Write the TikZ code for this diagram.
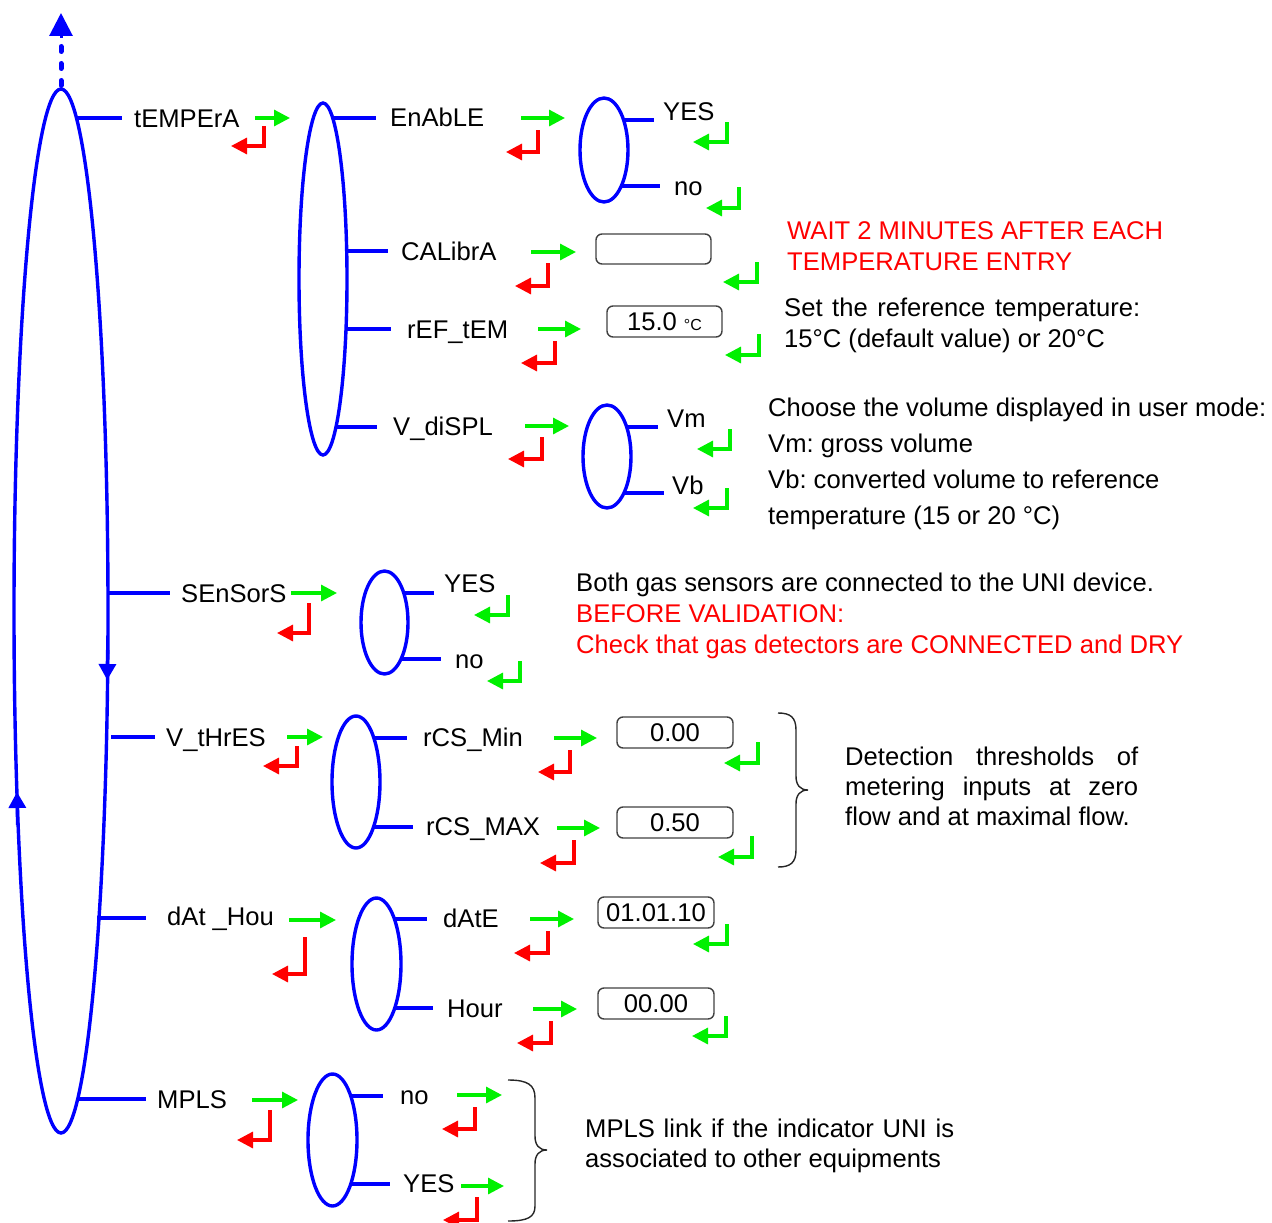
\documentclass[tikz,border=0pt]{standalone}
\usepackage{fontspec}
\setmainfont{Liberation Sans}
\usetikzlibrary{arrows.meta,shapes.geometric}
\definecolor{myblue}{RGB}{0,0,255}
\definecolor{mygreen}{RGB}{0,240,0}
\definecolor{myred}{RGB}{255,0,0}
\frenchspacing
\newcommand{\fwd}[3]{\draw[fwdarrow] (#1,#3) -- (#2,#3);}
\newcommand{\rtn}[5]{\draw[#1] (#2,#3) |- (#4,#5);}
\tikzset{
  lbl/.style={anchor=base west, inner sep=0pt, font=\fontsize{25.6}{30}\selectfont},
  ell/.style={draw=myblue, line width=3.4pt, ellipse, inner sep=0pt},
  br/.style={draw=myblue, line width=3.4pt},
  fwdarrow/.style={draw=mygreen, line width=3.2pt, -{Triangle[length=16pt,width=16pt]}},
  redret/.style={draw=myred, line width=3.2pt, -{Triangle[length=16pt,width=16pt]}},
  grnret/.style={draw=mygreen, line width=3.2pt, -{Triangle[length=16pt,width=16pt]}},
  valbox/.style={draw=black!75, line width=1.4pt, rounded corners=6pt, inner sep=0pt, font=\fontsize{25.6}{30}\selectfont},
  bracepath/.style={draw=black!85, line width=1.4pt},
}
\begin{document}
\begin{tikzpicture}[x=1pt,y=-1pt]
\useasboundingbox (0,0) rectangle (1272,1223);

% main ellipse
\node[ell, minimum width=94pt, minimum height=1044pt] (main) at (61,611) {};
\draw[myblue, line width=5pt, dash pattern=on 5pt off 12pt, line cap=round] (61,85.5) -- (61,42);
\draw[myblue, line width=3pt, -{Triangle[length=23pt,width=23pt]}] (61,38) -- (61,13);
\draw[myblue, line width=3.4pt, -{Triangle[length=16pt,width=17pt]}] (107.6,650) -- (107.2,680);
\draw[myblue, line width=3.4pt, -{Triangle[length=16pt,width=17pt]}] (17.6,825) -- (17.0,792);

% main branches
\draw[br] (77,118) -- (122,118);
\node[lbl] (tempera) at (134,127) {tEMPErA};
\draw[br] (107,593) -- (170,593);
\node[lbl] (sensors) at (181,602) {SEnSorS};
\draw[br] (111,737) -- (155,737);
\node[lbl] (vthres) at (166,746) {V\_tHrES};
\draw[br] (97,918) -- (146,918);
\node[lbl] (dathou) at (167,925) {dAt \_Hou};
\draw[br] (78,1099) -- (146,1099);
\node[lbl] (mpls) at (157,1108) {MPLS};

% ---------- tEMPErA ----------
\fwd{255}{290}{118}
\rtn{redret}{264}{126}{231}{146}
\node[ell, minimum width=48pt, minimum height=352pt] (eT) at (323,279) {};
\draw[br] (333,118) -- (376,118);
\node[lbl] (enable) at (390,126) {EnAbLE};
\draw[br] (346,251) -- (388,251);
\node[lbl] (calibra) at (401,260) {CALibrA};
\draw[br] (346,329) -- (391,329);
\node[lbl] (reftem) at (407,338) {rEF\_tEM};
\draw[br] (336,427) -- (377,427);
\node[lbl] (vdispl) at (393,435) {V\_diSPL};

% EnAbLE
\fwd{521}{565}{118}
\rtn{redret}{538}{130}{506}{152}
\node[ell, minimum width=48pt, minimum height=104pt] (eEn) at (604,150) {};
\draw[br] (623,120) -- (654,120);
\node[lbl] (yes1) at (663,120) {YES};
\draw[br] (621,186) -- (660,186);
\node[lbl] (no1) at (674,195) {no};
\rtn{grnret}{727}{122}{693}{142}
\rtn{grnret}{739}{187}{706}{208}

% CALibrA
\fwd{531}{576}{252}
\rtn{redret}{548}{263}{515}{286}
\node[valbox, minimum width=115pt, minimum height=30pt] (calbox) at (653.5,249) {};
\rtn{grnret}{757}{262}{723}{282}

% rEF_tEM
\fwd{538}{581}{329}
\rtn{redret}{555}{341}{521}{363}
\node[valbox, minimum width=115pt, minimum height=31pt] (refbox) at (664.5,321.5) {15.0 {\fontsize{16}{16}\selectfont °C}};
\rtn{grnret}{759}{334}{725}{355}

% V_diSPL
\fwd{525}{569}{426}
\rtn{redret}{542}{437}{508}{459}
\node[ell, minimum width=48pt, minimum height=103pt] (eVd) at (607,456.5) {};
\draw[br] (626,427) -- (658,427);
\node[lbl] (vm) at (667,427) {Vm};
\draw[br] (624,493) -- (664,493);
\node[lbl] (vb) at (672,494) {Vb};
\rtn{grnret}{730}{429}{697}{449}
\rtn{grnret}{727}{488}{693}{508}

% notes temperature
\node[lbl, text=myred] (wait1) at (787,239) {WAIT 2 MINUTES AFTER EACH};
\node[lbl, text=myred] (wait2) at (787,270) {TEMPERATURE ENTRY};
\node[lbl] (set1) at (784,316) {\makebox[356pt][s]{Set the reference temperature:}};
\node[lbl] (set2) at (784,347) {15°C (default value) or 20°C};
\node[lbl] (ch1) at (768,416) {Choose the volume displayed in user mode:};
\node[lbl] (ch2) at (768,452) {Vm: gross volume};
\node[lbl] (ch3) at (768,488) {Vb: converted volume to reference};
\node[lbl] (ch4) at (768,524) {temperature (15 or 20 °C)};

% ---------- SEnSorS ----------
\fwd{291}{337}{593}
\rtn{redret}{309}{603}{277}{633}
\node[ell, minimum width=47pt, minimum height=103pt] (eS) at (384.5,622.5) {};
\draw[br] (403,593) -- (434,593);
\node[lbl] (yes2) at (444,592) {YES};
\draw[br] (401,659) -- (441,659);
\node[lbl] (no2) at (455,668) {no};
\rtn{grnret}{508}{595}{474}{615}
\rtn{grnret}{520}{661}{487}{681}
\node[lbl] (s1) at (576,591) {Both gas sensors are connected to the UNI device.};
\node[lbl, text=myred] (s2) at (576,622) {BEFORE VALIDATION:};
\node[lbl, text=myred] (s3) at (576,653) {Check that gas detectors are CONNECTED and DRY};

% ---------- V_tHrES ----------
\fwd{287}{323}{737}
\rtn{redret}{297}{746}{263}{766}
\node[ell, minimum width=48pt, minimum height=132pt] (eV) at (356,782) {};
\draw[br] (374,738) -- (407,738);
\node[lbl] (rcsmin) at (423,746) {rCS\_Min};
\draw[br] (373,827) -- (413,827);
\node[lbl] (rcsmax) at (426,835) {rCS\_MAX};
\fwd{554}{597}{738}
\rtn{redret}{570}{750}{538}{772}
\node[valbox, minimum width=116pt, minimum height=31pt] (minbox) at (675,732.5) {0.00};
\rtn{grnret}{758}{742}{724}{763}
\fwd{557}{600}{828}
\rtn{redret}{574}{840}{540}{863}
\node[valbox, minimum width=116pt, minimum height=31pt] (maxbox) at (675,822.5) {0.50};
\rtn{grnret}{752}{836}{718}{857}
\draw[bracepath] (778,713) .. controls (790,713) and (796,717) .. (796,730) -- (796,776) .. controls (796,785) and (800,790) .. (808,790) .. controls (800,790) and (796,795) .. (796,804) -- (796,850) .. controls (796,863) and (790,867) .. (778,867);
\node[lbl] (d1) at (845,765) {\makebox[293pt][s]{Detection thresholds of}};
\node[lbl] (d2) at (845,795) {\makebox[293pt][s]{metering inputs at zero}};
\node[lbl] (d3) at (845,825) {flow and at maximal flow.};

% ---------- dAt _Hou ----------
\fwd{289}{336}{920}
\rtn{redret}{305}{937}{272}{974}
\node[ell, minimum width=49pt, minimum height=132pt] (eD) at (376.5,964) {};
\draw[br] (394,919) -- (427,919);
\node[lbl] (date) at (443,927) {dAtE};
\draw[br] (394,1008) -- (433,1008);
\node[lbl] (hour) at (447,1017) {Hour};
\fwd{530}{574}{919}
\rtn{redret}{548}{931}{514}{953}
\node[valbox, minimum width=116pt, minimum height=31pt] (datebox) at (656,912.5) {01.01.10};
\rtn{grnret}{727}{924}{693}{944}
\fwd{533}{577}{1009}
\rtn{redret}{551}{1021}{517}{1043}
\node[valbox, minimum width=116pt, minimum height=31pt] (hourbox) at (656,1003.5) {00.00};
\rtn{grnret}{726}{1016}{692}{1036}

% ---------- MPLS ----------
\fwd{252}{298}{1100}
\rtn{redret}{270}{1110}{237}{1140}
\node[ell, minimum width=49pt, minimum height=132pt] (eM) at (332.5,1140) {};
\draw[br] (351,1096) -- (383,1096);
\node[lbl] (no3) at (400,1104) {no};
\draw[br] (351,1184) -- (390,1184);
\node[lbl] (yes3) at (403,1192) {YES};
\fwd{457}{502}{1095}
\rtn{redret}{475}{1107}{442}{1129}
\fwd{461}{504}{1186}
\rtn{redret}{477}{1197}{443}{1220}
\draw[bracepath] (508,1080) .. controls (528,1080) and (535,1085) .. (535,1098) -- (535,1136) .. controls (535,1145) and (539,1150) .. (547,1150) .. controls (539,1150) and (535,1155) .. (535,1164) -- (535,1206) .. controls (535,1217) and (528,1221) .. (508,1221);
\node[lbl] (m1) at (585,1137) {\makebox[369pt][s]{MPLS link if the indicator UNI is}};
\node[lbl] (m2) at (585,1167) {associated to other equipments};
\end{tikzpicture}
\end{document}
